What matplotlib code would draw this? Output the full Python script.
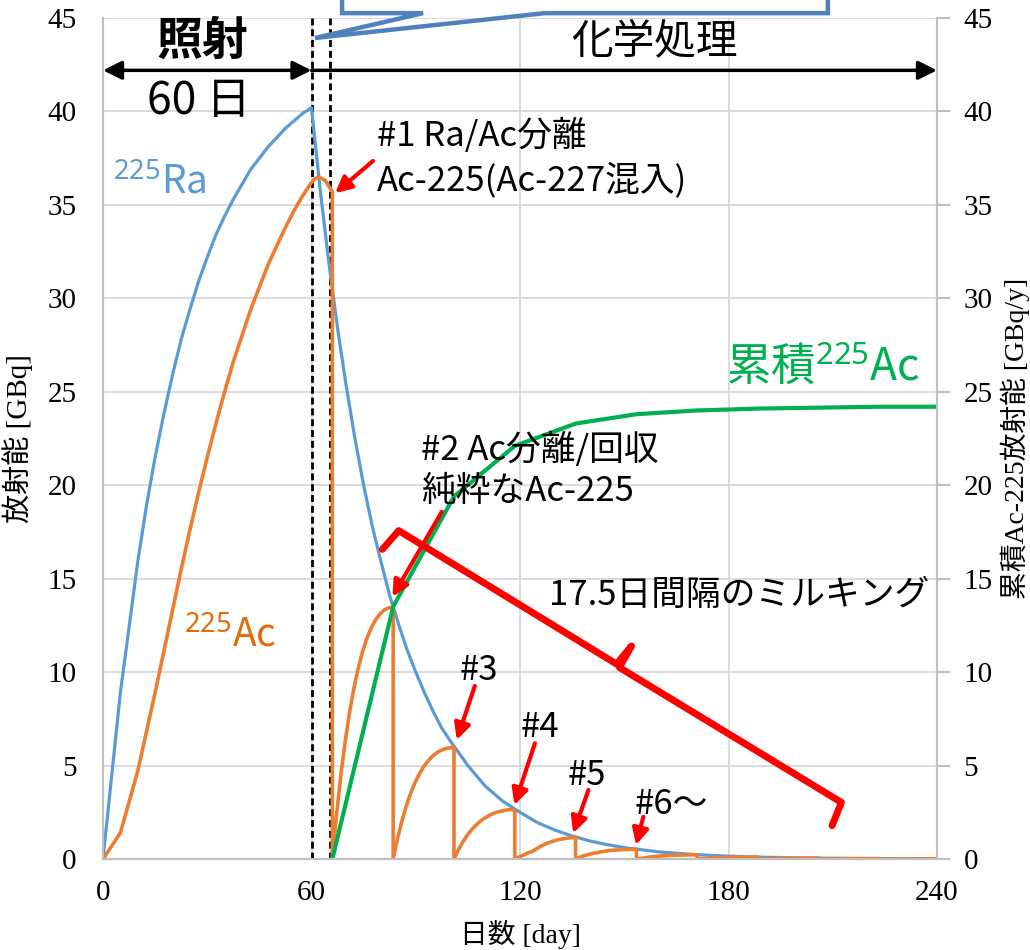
import matplotlib
matplotlib.use("Agg")
import matplotlib.pyplot as plt

plt.rcParams['font.family'] = ['Noto Sans CJK JP', 'DejaVu Sans']
plt.rcParams['mathtext.fontset'] = 'custom'
plt.rcParams['mathtext.rm'] = 'Noto Sans'
plt.rcParams['mathtext.it'] = 'Noto Sans:italic'
plt.rcParams['mathtext.bf'] = 'Noto Sans:bold'

SERIF = ['Liberation Serif', 'Noto Sans CJK JP']

# ---- Ra-225 (照射 60日 -> 減衰)
ra_days = [0, 5, 10, 12.5, 15, 17.5, 20, 22.5, 25, 27.5, 30, 32.5, 35, 37.5, 40,
           42.5, 45, 47.5, 50, 52.5, 55, 57.5, 60,
           62.5, 65, 67.5, 70, 72.5, 75, 77.5, 80, 82.5, 85, 87.5, 90, 92.5, 95, 97.5,
           100, 105, 110, 115, 120, 125, 130, 135, 140, 145, 150, 160, 170, 180,
           190, 200, 220, 240]
ra_vals = [0, 8.9, 15.9, 18.9, 21.5, 23.8, 25.9, 27.8, 29.4, 30.9, 32.2, 33.4, 34.4, 35.3, 36.1,
           36.9, 37.5, 38.1, 38.6, 39.1, 39.5, 39.9, 40.2,
           35.8, 31.9, 28.4, 25.3, 22.5, 20.0, 17.8, 15.9, 14.1, 12.6, 11.2, 10.0, 8.9, 7.9, 7.0,
           6.3, 5.0, 3.9, 3.1, 2.5, 1.95, 1.55, 1.23, 0.97, 0.77, 0.61, 0.38, 0.24, 0.15,
           0.095, 0.06, 0.02, 0.01]

# ---- Ac-225 (成長, 17.5日毎のミルキング)
ac_days = [0, 5, 10, 12.5, 15, 17.5, 20, 22.5, 25, 27.5, 30, 32.5, 35, 37.5, 40,
           42.5, 45, 47.5, 50, 52.5, 55, 57.5, 60,
           61, 62, 63, 64, 65, 66, 66,
           67.25, 68.5, 69.75, 71, 72.25, 73.5, 74.75, 76, 77.25, 78.5, 79.75, 81, 82.25, 83.5, 83.5,
           84.75, 86, 87.25, 88.5, 89.75, 91, 92.25, 93.5, 94.75, 96, 97.25, 98.5, 99.75, 101, 101,
           102.25, 103.5, 104.75, 106, 107.25, 108.5, 109.75, 111, 112.25, 113.5, 114.75, 116,
           117.25, 118.5, 118.5,
           120.25, 121, 122.25, 123.5, 124.75, 126, 127.25, 128.5, 129.75, 131, 132.25, 133.5,
           134.75, 136, 136,
           138.5, 141, 143.5, 146, 148.5, 151, 153.5, 153.5,
           158.5, 163.5, 171, 171,
           176, 181, 188.5, 188.5,
           193.5, 198.5, 206, 206,
           211, 216, 223.5, 223.5,
           228.5, 240]
ac_vals = [0, 1.4, 4.7, 6.8, 8.9, 11.1, 13.3, 15.5, 17.6, 19.6, 21.5, 23.3, 25.0, 26.6, 28.0,
           29.4, 30.6, 31.8, 32.8, 33.8, 34.7, 35.5, 36.2,
           36.4, 36.5, 36.4, 36.3, 36.0, 35.7, 0,
           2.45, 4.56, 6.36, 7.90, 9.18, 10.25, 11.13, 11.84, 12.39, 12.82, 13.12, 13.33, 13.44, 13.47, 0,
           1.09, 2.02, 2.82, 3.50, 4.07, 4.54, 4.93, 5.24, 5.49, 5.68, 5.81, 5.90, 5.95, 5.97, 0,
           0.48, 0.90, 1.25, 1.55, 1.80, 2.01, 2.18, 2.32, 2.43, 2.52, 2.57, 2.62,
           2.64, 2.64, 0,
           0.15, 0.21, 0.33, 0.40, 0.55, 0.69, 0.80, 0.89, 0.97, 1.03, 1.08, 1.11,
           1.14, 1.17, 0,
           0.18, 0.30, 0.39, 0.46, 0.49, 0.51, 0.52, 0,
           0.13, 0.20, 0.23, 0,
           0.06, 0.09, 0.10, 0,
           0.03, 0.04, 0.045, 0,
           0.01, 0.02, 0.02, 0,
           0.005, 0.009]

# ---- 累積 Ac-225 (右軸)
cum_days = [66, 83.5, 101, 118.5, 136, 153.5, 171, 188.5, 206, 223.5, 240]
cum_vals = [0, 13.5, 19.4, 22.1, 23.3, 23.8, 24.0, 24.1, 24.15, 24.2, 24.2]

x_ticks = [0, 60, 120, 180, 240]
y_ticks = [0, 5, 10, 15, 20, 25, 30, 35, 40, 45]

BLUE = '#5b9bd5'
ORANGE = '#ed7d31'
GREEN = '#00b050'
GRID = '#d9d9d9'

fig = plt.figure(figsize=(10.3, 9.5), dpi=100)
ax = fig.add_axes([103 / 1030, 91 / 950, 834 / 1030, 841 / 950])
ax2 = ax.twinx()

for a in (ax, ax2):
    a.set_xlim(0, 240)
    a.set_ylim(0, 45)
    a.set_yticks(y_ticks)

ax.set_xticks(x_ticks)
ax.grid(True, color=GRID, lw=1.3)
ax.set_axisbelow(True)
ax.spines['top'].set_visible(False)
ax2.spines['top'].set_visible(False)
for s in ('left', 'bottom', 'right'):
    ax.spines[s].set_color('#bfbfbf')
    ax2.spines[s].set_color('#bfbfbf')
    ax.spines[s].set_linewidth(1.5)
    ax2.spines[s].set_linewidth(1.5)

ax.tick_params(axis='y', length=0, pad=19)
ax.tick_params(axis='x', length=0, pad=15)
ax2.tick_params(axis='y', length=9, width=1.5, color='#bfbfbf', pad=10)
for lab in ax.get_xticklabels() + ax.get_yticklabels() + ax2.get_yticklabels():
    lab.set_family(SERIF)
    lab.set_fontsize(21)

ax.set_xlabel('日数 [day]', family=SERIF, fontsize=20, labelpad=10)
ax.set_ylabel('放射能 [GBq]', family=SERIF, fontsize=21, labelpad=10)
ax2.set_ylabel('累積Ac-225放射能 [GBq/y]', family=SERIF, fontsize=20, labelpad=6)

# dashed lines (照射終了 / 第1分離)
for d in (60, 65.2):
    ax.axvline(d, color='black', lw=2, linestyle=(0, (2.5, 1.4)), zorder=3)

ax.plot(ra_days, ra_vals, color=BLUE, lw=2.3, zorder=4)
ax.plot(ac_days, ac_vals, color=ORANGE, lw=2.6, zorder=5)
ax.plot(cum_days, cum_vals, color=GREEN, lw=3, zorder=6)

# 照射 / 化学処理 arrows
ax.annotate('', xy=(0, 42.2), xytext=(60, 42.2),
            arrowprops=dict(arrowstyle='<|-|>', color='black', lw=2.5,
                            mutation_scale=28, shrinkA=0, shrinkB=0),
            annotation_clip=False, zorder=7)
ax.annotate('', xy=(240, 42.2), xytext=(60, 42.2),
            arrowprops=dict(arrowstyle='-|>', color='black', lw=2.5,
                            mutation_scale=28, shrinkA=0, shrinkB=0),
            annotation_clip=False, zorder=7)
ax.text(28.5, 43.7, '照射', fontsize=33, fontweight='bold', ha='center', va='center', zorder=7)
ax.text(27.6, 40.55, '60 日', fontsize=32, ha='center', va='center', zorder=7)
ax.text(158.6, 43.7, '化学処理', fontsize=30, ha='center', va='center', zorder=7)

# callout (cut off at top)
cx = [68.8, 68.8, 92.1, 61.0, 127.2, 208.6, 208.6]
cy = [47, 45.26, 45.26, 43.93, 45.26, 45.26, 47]
ax.plot(cx, cy, color='#4f81bd', lw=3.2, clip_on=False, zorder=8,
        solid_joinstyle='miter')

# series labels
ax.text(2.9, 35.63, '$^{225}$Ra', color=BLUE, fontsize=28, va='baseline', zorder=7)
ax.text(23.3, 11.40, '$^{225}$Ac', color='#e36c09', fontsize=28, va='baseline', zorder=7)
ax.text(179.3, 25.6, '累積$^{225}$Ac', color=GREEN, fontsize=32, va='baseline', zorder=7)

# notes
FS = 25
ax.text(78.8, 38.68, '#1 Ra/Ac分離', fontsize=FS, va='center', zorder=7)
ax.text(78.8, 36.33, 'Ac-225(Ac-227混入)', fontsize=FS, va='center', zorder=7)
ax.text(91.5, 21.88, '#2 Ac分離/回収', fontsize=FS, va='center', zorder=7)
ax.text(91.5, 19.64, '純粋なAc-225', fontsize=FS, va='center', zorder=7)
ax.text(128.3, 14.12, '17.5日間隔のミルキング', fontsize=FS, va='center', zorder=7)
ax.text(108.2, 10.06, '#3', fontsize=FS, ha='center', va='center', zorder=7)
ax.text(125.8, 7.01, '#4', fontsize=FS, ha='center', va='center', zorder=7)
ax.text(139.3, 4.49, '#5', fontsize=FS, ha='center', va='center', zorder=7)
ax.text(153.1, 2.94, '#6〜', fontsize=FS, va='center', zorder=7)

# red arrows
arrows = [((77.7, 37.35), (66.8, 35.63)),
          ((97.5, 18.58), (83.3, 14.03)),
          ((107.0, 9.26), (101.8, 6.37)),
          ((124.3, 6.19), (118.4, 2.89)),
          ((139.7, 3.69), (135.3, 1.38)),
          ((155.5, 2.26), (153.4, 0.75))]
for start, tip in arrows:
    ax.annotate('', xy=tip, xytext=start,
                arrowprops=dict(arrowstyle='-|>', color='red', lw=3,
                                mutation_scale=24, shrinkA=0, shrinkB=0),
                zorder=9)

# brace for milking interval
bx = [80.4, 85.1, 147.8, 152.1, 148.6, 212.5, 209.8]
by = [16.57, 17.57, 10.43, 11.40, 10.25, 3.03, 1.78]
ax.plot(bx, by, color='red', lw=5, zorder=9, solid_joinstyle='round',
        solid_capstyle='round')

fig.savefig('out.png', dpi=100)
